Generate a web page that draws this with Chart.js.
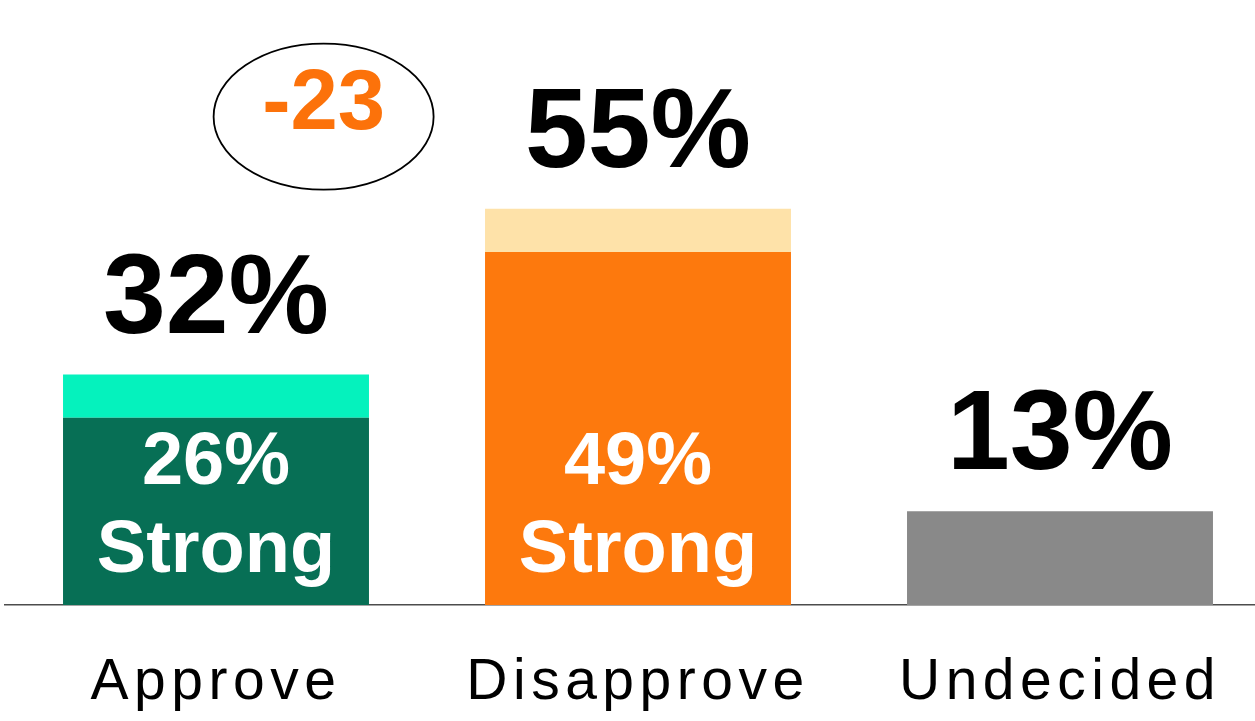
<!DOCTYPE html>
<html><head><meta charset="utf-8">
<script src="https://cdn.jsdelivr.net/npm/chart.js@4"></script>
<style>
html,body{margin:0;padding:0;background:#fff;overflow:hidden;width:1255px;height:721px}
#wrap{position:absolute;left:0;top:0;width:1276px;height:721px}
canvas{display:block}
</style></head>
<body><div id="wrap"><canvas id="c" width="1276" height="721"></canvas></div>
<script>
const categories = ['Approve', 'Disapprove', 'Undecided'];
const strongValues = [26, 49, null];
const softValues = [6, 6, null];
const undecidedValues = [null, null, 13];
const totalLabels = ['32%', '55%', '13%'];
const strongLabels = ['26%', '49%', null];
const strongWord = 'Strong';
const netLabel = '-23';

const strongColors = ['#076F55', '#FD790D'];
const softColors = ['#05F2BD', '#FEE2A9'];
const undecidedColor = '#898989';
const FONT = '"Liberation Sans", Arial, Helvetica, sans-serif';

const labelPlugin = {
  id: 'customLabels',
  beforeDraw(chart) { chart.ctx.letterSpacing = '5.5px'; },
  beforeDatasetsDraw(chart) { chart.ctx.letterSpacing = '0px'; },
  afterDatasetsDraw(chart) {
    const ctx = chart.ctx, xs = chart.scales.x, ys = chart.scales.y;
    ctx.save();
    ctx.letterSpacing = '0px';
    ctx.textAlign = 'center';
    ctx.textBaseline = 'alphabetic';
    categories.forEach((c, i) => {
      const x = xs.getPixelForValue(i);
      let top = Infinity;
      chart.data.datasets.forEach((ds, d) => {
        if (ds.data[i] == null) return;
        const el = chart.getDatasetMeta(d).data[i];
        if (el.y < top) top = el.y;
      });
      ctx.fillStyle = '#000';
      ctx.font = 'bold 113px ' + FONT;
      ctx.fillText(totalLabels[i], x, top - 42);
      if (strongLabels[i]) {
        const el = chart.getDatasetMeta(0).data[i];
        const base = el.base;
        ctx.fillStyle = '#fff';
        ctx.font = 'bold 74px ' + FONT;
        ctx.fillText(strongLabels[i], x, base - 121);
        ctx.fillText(strongWord, x, base - 33);
      }
    });
    const x0 = xs.getPixelForValue(0), x1 = xs.getPixelForValue(1);
    const cx = x0 + (x1 - x0) * 0.255;
    const cy = ys.getPixelForValue(67.8);
    ctx.beginPath();
    ctx.ellipse(cx, cy, 110, 73, 0, 0, Math.PI * 2);
    ctx.lineWidth = 1.8;
    ctx.strokeStyle = '#000';
    ctx.stroke();
    ctx.fillStyle = '#FC720A';
    ctx.font = 'bold 85px ' + FONT;
    ctx.fillText(netLabel, cx, cy + 12);
    ctx.restore();
  }
};

new Chart(document.getElementById('c'), {
  type: 'bar',
  data: {
    labels: categories,
    datasets: [
      { label: 'Strong', data: strongValues, backgroundColor: strongColors },
      { label: 'Somewhat', data: softValues, backgroundColor: softColors },
      { label: 'Undecided', data: undecidedValues, backgroundColor: undecidedColor }
    ]
  },
  options: {
    responsive: false,
    animation: false,
    devicePixelRatio: 1,
    layout: { padding: { left: 5, right: 5, top: 0, bottom: 0 } },
    datasets: { bar: { barPercentage: 1, categoryPercentage: 0.725, borderWidth: 0 } },
    plugins: { legend: { display: false }, tooltip: { enabled: false } },
    scales: {
      x: {
        stacked: true,
        grid: { display: false, drawTicks: false },
        border: { display: true, color: '#4d4d4d', width: 1.5 },
        ticks: { color: '#000', font: { family: FONT, size: 57 }, padding: 44, maxRotation: 0, autoSkip: false },
        afterFit(scale) { scale.height = 116; }
      },
      y: {
        stacked: true, display: false, min: 0, max: 84.0
      }
    }
  },
  plugins: [labelPlugin]
});
</script>
</body></html>
